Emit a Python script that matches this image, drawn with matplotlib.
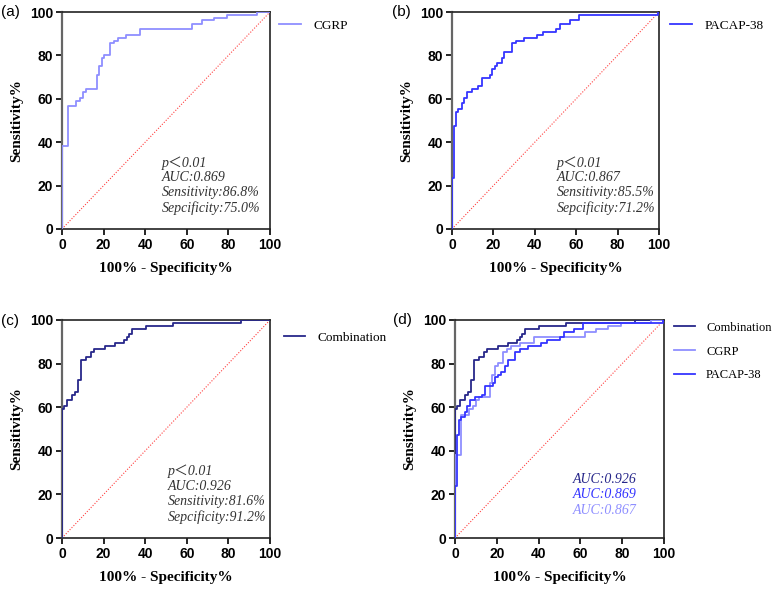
import matplotlib
matplotlib.use('Agg')
import matplotlib.pyplot as plt

# ---------- 数据（从图中读取的 ROC 折点） ----------
cgrp_fpr = [0, 0, 2.7, 6.8, 8.7, 10.0, 11.6, 16.7, 17.8, 19.3, 20.4, 23.2, 24.8, 26.8,
            30.9, 37.6, 62.4, 67.5, 73.2, 79.4, 93.9, 100]
cgrp_tpr = [0, 38.2, 56.6, 59.2, 60.5, 63.2, 64.5, 71.1, 75.0, 78.9, 80.3, 85.5, 86.8, 88.2,
            89.5, 92.1, 94.7, 96.1, 97.4, 98.7, 100, 100]

pacap_fpr = [0, 0, 1.0, 2.0, 3.0, 4.7, 5.8, 7.2, 9.6, 12.7, 14.3, 18.3, 19.1, 20.7, 21.9,
             24.0, 25.2, 28.8, 30.9, 34.9, 41.3, 44.0, 50.0, 52.0, 57.0, 61.3, 99.5, 100]
pacap_tpr = [0, 23.7, 47.4, 54.0, 55.3, 57.9, 60.5, 63.2, 64.5, 65.8, 69.7, 71.1, 73.7, 75.0,
             76.3, 78.9, 81.6, 85.5, 86.8, 88.2, 89.5, 90.8, 92.1, 94.7, 96.1, 98.7, 100, 100]

comb_fpr = [0, 0, 0.8, 2.2, 4.8, 6.3, 7.5, 9.0, 11.5, 14.1, 15.5, 20.5, 25.5, 29.8, 31.1,
            32.2, 33.7, 40.2, 53.2, 85.9, 100]
comb_tpr = [0, 59.2, 60.5, 63.2, 65.8, 67.1, 72.4, 81.6, 82.9, 85.5, 86.8, 88.2, 89.5, 90.8,
            92.1, 93.4, 96.1, 97.4, 98.7, 100, 100]

stats_a = ['0.869', '86.8%', '75.0%']
stats_b = ['0.867', '85.5%', '71.2%']
stats_c = ['0.926', '81.6%', '91.2%']

C_CGRP = '#8f8fff'
C_PACAP = '#3535ff'
C_COMB = '#27278a'

SERIF = ['Liberation Serif', 'DejaVu Serif']
SANS = ['Liberation Sans', 'DejaVu Sans']

fig = plt.figure(figsize=(7.77, 5.9), dpi=100)
W, H = 777, 590


def make_ax(left, top, right, bottom):
    return fig.add_axes([left / W, 1 - bottom / H, (right - left) / W, (bottom - top) / H])


def style_ax(ax):
    ax.set_xlim(0, 100)
    ax.set_ylim(0, 100)
    ax.set_xticks(range(0, 101, 20))
    ax.set_yticks(range(0, 101, 20))
    for s in ['top', 'right', 'bottom']:
        ax.spines[s].set_color('#222222')
        ax.spines[s].set_linewidth(1.2)
    ax.spines['left'].set_color('#666666')
    ax.spines['left'].set_linewidth(1.6)
    ax.tick_params(direction='out', length=4.5, width=1.2, labelsize=10, pad=2)
    for lab in ax.get_xticklabels() + ax.get_yticklabels():
        lab.set_family(SANS)
        lab.set_fontweight('bold')
    ax.set_xlabel('100% - Specificity%', family=SERIF, fontweight='bold', fontsize=11, labelpad=7)
    ax.set_ylabel('Sensitivity%', family=SERIF, fontweight='bold', fontsize=11, labelpad=5)
    ax.plot([0, 100], [0, 100], color='#ff4040', linestyle=(0, (1, 1.5)), linewidth=0.8, zorder=1)


def stats_text(ax, x, stats):
    ax.text(x, 30.5, 'p＜0.01', family=['Liberation Serif', 'Noto Sans CJK SC'], style='italic',
            fontsize=10, color='#333333', va='center')
    lines = ['AUC:' + stats[0], 'Sensitivity:' + stats[1], 'Sepcificity:' + stats[2]]
    for i, t in enumerate(lines):
        ax.text(x, 23.6 - i * 6.9, t, family=SERIF, style='italic', fontsize=10,
                color='#333333', va='center')


def legend(ax, x_anchor, y_anchor, spacing=0.9, size=9.5):
    leg = ax.legend(loc='upper left', bbox_to_anchor=(x_anchor, y_anchor), frameon=False,
                    prop={'family': SERIF, 'size': size}, handlelength=1.65,
                    handletextpad=0.9, labelspacing=spacing, borderaxespad=0)
    return leg


# ----- (a) CGRP -----
ax1 = make_ax(62, 12, 270, 229)
style_ax(ax1)
ax1.plot(cgrp_fpr, cgrp_tpr, drawstyle='steps-post', color=C_CGRP, linewidth=1.3, label='CGRP', zorder=3)
stats_text(ax1, 47.8, stats_a)
legend(ax1, 1.02, 0.99)

# ----- (b) PACAP-38 -----
ax2 = make_ax(452, 12, 659, 229)
style_ax(ax2)
ax2.plot(pacap_fpr, pacap_tpr, drawstyle='steps-post', color=C_PACAP, linewidth=1.3, label='PACAP-38', zorder=3)
stats_text(ax2, 50.7, stats_b)
legend(ax2, 1.03, 0.99)

# ----- (c) Combination -----
ax3 = make_ax(62, 320, 270, 538)
style_ax(ax3)
ax3.plot(comb_fpr, comb_tpr, drawstyle='steps-post', color=C_COMB, linewidth=1.3, label='Combination', zorder=3)
stats_text(ax3, 51.0, stats_c)
legend(ax3, 1.04, 0.97)

# ----- (d) 三条曲线对比 -----
ax4 = make_ax(455, 320, 664, 538)
style_ax(ax4)
ax4.plot(comb_fpr, comb_tpr, drawstyle='steps-post', color=C_COMB, linewidth=1.3, label='Combination', zorder=3)
ax4.plot(cgrp_fpr, cgrp_tpr, drawstyle='steps-post', color=C_CGRP, linewidth=1.3, label='CGRP', zorder=3)
ax4.plot(pacap_fpr, pacap_tpr, drawstyle='steps-post', color=C_PACAP, linewidth=1.3, label='PACAP-38', zorder=3)
auc_lines = [('AUC:' + stats_c[0], C_COMB), ('AUC:' + stats_a[0], C_PACAP), ('AUC:' + stats_b[0], C_CGRP)]
for i, (t, c) in enumerate(auc_lines):
    ax4.text(56.5, 27 - i * 7.1, t, family=SERIF, style='italic', fontsize=10, color=c, va='center')
legend(ax4, 1.025, 1.015, spacing=0.95, size=9)

# ----- 面板标签 -----
for x, y, t in [(1, 12, '(a)'), (392, 12, '(b)'), (1, 321, '(c)'), (393, 320, '(d)')]:
    fig.text(x / W, 1 - y / H, t, family=SANS, fontsize=11, va='center', ha='left')

fig.savefig('out.png', dpi=100)
